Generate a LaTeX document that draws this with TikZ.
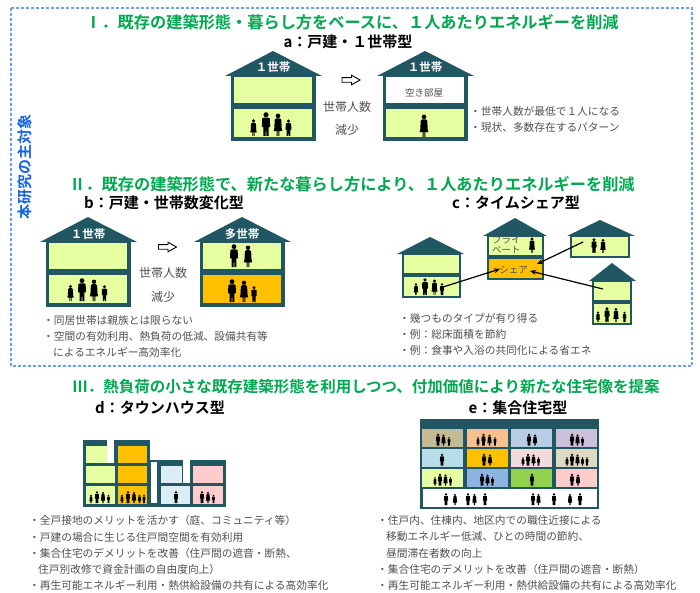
\documentclass[tikz,border=0pt]{standalone}
\usepackage{fontspec}
\setmainfont{Noto Sans CJK JP}[BoldFont={Noto Sans CJK JP Bold}]
\usetikzlibrary{arrows.meta}

\definecolor{housedark}{RGB}{33,87,99}
\definecolor{cLime}{RGB}{230,255,160}
\definecolor{cAmber}{RGB}{255,192,0}
\definecolor{cSky}{RGB}{218,238,243}
\definecolor{cRose}{RGB}{255,204,204}
\definecolor{cTitle}{RGB}{0,168,80}
\definecolor{cVert}{RGB}{20,100,230}
\definecolor{cDash}{RGB}{110,160,240}
\definecolor{cText}{RGB}{80,80,80}
% apartment unit colours
\definecolor{uKhaki}{RGB}{196,186,150}
\definecolor{uPeach}{RGB}{249,192,143}
\definecolor{uBlue}{RGB}{184,204,228}
\definecolor{uLav}{RGB}{204,192,218}
\definecolor{uCyan}{RGB}{183,222,232}
\definecolor{uPink}{RGB}{242,220,219}
\definecolor{uBeige}{RGB}{221,217,195}
\definecolor{uMid}{RGB}{141,180,226}
\definecolor{uGreen}{RGB}{146,208,80}

\tikzset{
  mfig/.pic={
    \fill (0,-0.885) circle (0.105);
    \fill (-0.17,-0.37) -- (-0.16,-0.73) -- (-0.08,-0.77) -- (0.08,-0.77) -- (0.16,-0.73)
      -- (0.17,-0.37) -- (0.12,-0.37) -- (0.11,-0.58) -- (0.105,0) -- (0.02,0) -- (0,-0.42)
      -- (-0.02,0) -- (-0.105,0) -- (-0.11,-0.58) -- (-0.12,-0.37) -- cycle;
  },
  wfig/.pic={
    \fill (0,-0.875) circle (0.10);
    \fill (-0.08,-0.77) -- (0.08,-0.77) -- (0.14,-0.71) -- (0.16,-0.40) -- (0.12,-0.40)
      -- (0.11,-0.56) -- (0.19,-0.21) -- (0.065,-0.21) -- (0.06,0) -- (0.02,0) -- (0.02,-0.21)
      -- (-0.02,-0.21) -- (-0.02,0) -- (-0.06,0) -- (-0.065,-0.21) -- (-0.19,-0.21)
      -- (-0.11,-0.56) -- (-0.12,-0.40) -- (-0.16,-0.40) -- (-0.14,-0.71) -- cycle;
  },
  title/.style={text=cTitle, font=\bfseries\fontsize{16.2}{19}\selectfont, inner sep=0pt},
  subtitle/.style={font=\bfseries\fontsize{15}{18}\selectfont, inner sep=0pt},
  note/.style={text=cText, font=\fontsize{10.7}{12}\selectfont, anchor=west, inner sep=0pt},
  rooflbl/.style={text=white, font=\bfseries\fontsize{11.5}{13}\selectfont, inner sep=0pt},
  changelbl/.style={text=cText, font=\fontsize{12}{14}\selectfont, inner sep=0pt},
  roomlbl/.style={text=cText, font=\fontsize{9.5}{11}\selectfont, inner sep=0pt},
  link/.style={line width=1.2pt, -{Stealth[length=6pt,width=5pt]}},
  hollow/.style={draw=black, fill=white, line width=0.9pt, line join=miter},
}

% people: x, feet y, adult height
\newcommand\manat[3]{\pic[scale=#3] at (#1,#2) {mfig};}
\newcommand\womanat[3]{\pic[scale=#3] at (#1,#2) {wfig};}
\newcommand\boyat[3]{\pic[scale=0.7*#3] at (#1,#2) {mfig};}
\newcommand\girlat[3]{\pic[scale=0.72*#3] at (#1,#2) {wfig};}

% detached house with two floors, drawn relative to the first one
\newcommand\bighouse[4]{%
  \begin{scope}[shift={(#1,#2)}]
    \fill[housedark] (225,76) -- (273,51) -- (322,76) -- cycle;
    \fill[housedark] (231,75) rectangle (316,141);
    \fill[#3] (234,77) rectangle (312,103);
    \fill[#4] (234,109) rectangle (312,137);
  \end{scope}}

% hollow block arrow centred on a point
\newcommand\hollowarrow[2]{%
  \begin{scope}[shift={(#1,#2)}]
    \draw[hollow] (-9,-2.3) -- (0.5,-2.3) -- (0.5,-4.8) -- (9,0) -- (0.5,4.8) -- (0.5,2.3) -- (-9,2.3) -- cycle;
  \end{scope}}

\begin{document}
\begin{tikzpicture}[x=1pt,y=-1pt]
\useasboundingbox (0,0) rectangle (700,593);
\fill[white] (0,0) rectangle (700,593);

% main-target frame
\draw[cDash, line width=1.2pt, dash pattern=on 3pt off 2pt] (11,8) rectangle (692,366);
\node[rotate=90, text=cVert, font=\bfseries\fontsize{15}{17}\selectfont, inner sep=0pt] (target) at (25,167) {本研究の主対象};

% ---------- I ----------
\node[title] (t1) at (352,22) {Ⅰ．既存の建築形態・暮らし方をベースに、１人あたりエネルギーを削減};
\node[subtitle] (ta) at (348,42) {a：戸建・１世帯型};

\bighouse{0}{0}{cLime}{cLime}
\bighouse{152}{0}{white}{cLime}
\node[rooflbl] (a1roof) at (273,67) {１世帯};
\node[rooflbl] (a2roof) at (425,67) {１世帯};
\node[roomlbl] (a2empty) at (424,93) {空き部屋};
\girlat{253.5}{136}{24} \manat{266}{136}{24} \womanat{278}{136}{23} \boyat{288.5}{136}{24}
\womanat{424}{137}{23}
\hollowarrow{351}{80}
\node[changelbl] (ach1) at (347,107) {世帯人数};
\node[changelbl] (ach2) at (347,130) {減少};
\node[note] (an1) at (470,111) {・世帯人数が最低で１人になる};
\node[note] (an2) at (470,127) {・現状、多数存在するパターン};

% ---------- II ----------
\node[title] (t2) at (352,184) {Ⅱ．既存の建築形態で、新たな暮らし方により、１人あたりエネルギーを削減};
\node[subtitle] (tb) at (164,203) {b：戸建・世帯数変化型};
\node[subtitle] (tc) at (516,203) {c：タイムシェア型};

% b
\bighouse{-185}{166}{cLime}{cLime}
\bighouse{-31}{166}{cLime}{cAmber}
\node[rooflbl] (b1roof) at (88,234) {１世帯};
\node[rooflbl] (b2roof) at (242,234) {多世帯};
\girlat{70.5}{301}{23} \manat{82}{301}{23} \womanat{94}{301}{22} \boyat{104.5}{301}{23}
\manat{234}{267}{23} \womanat{248}{267}{22}
\manat{232}{302}{23} \womanat{244}{302}{22} \boyat{254}{302}{23}
\hollowarrow{167.5}{247}
\node[changelbl] (bch1) at (163,273) {世帯人数};
\node[changelbl] (bch2) at (163,297) {減少};
\node[note] (bn1) at (43,320) {・同居世帯は親族とは限らない};
\node[note] (bn2) at (43,336) {・空間の有効利用、熱負荷の低減、設備共有等};
\node[note] (bn3) at (53,352) {によるエネルギー高効率化};

% c : four houses around a shared space
\fill[housedark] (397,254) -- (430,237) -- (464,254) -- cycle;
\fill[housedark] (402,253) rectangle (461,298);
\fill[cLime] (404,255) rectangle (459,273);
\fill[cLime] (404,277) rectangle (459,296);
\girlat{416}{295}{17} \manat{425}{295}{17} \womanat{434.5}{295}{16} \boyat{442}{295}{17}

\fill[housedark] (483,236) -- (515,218) -- (547,236) -- cycle;
\fill[housedark] (487,235) rectangle (544,280);
\fill[cLime] (489,237) rectangle (542,255);
\fill[cAmber] (489,259) rectangle (542,278);
\node[roomlbl, anchor=west] (priv1) at (492,240) {プライ};
\node[roomlbl, anchor=west] (priv2) at (492,250) {ベート};
\womanat{532}{253}{16}
\node[roomlbl] (share) at (513.5,270) {シェア};

\fill[housedark] (567,236) -- (600,220) -- (635,236) -- cycle;
\fill[housedark] (570,235) rectangle (630,258);
\fill[cLime] (572,237) rectangle (628,256);
\manat{594}{253}{15} \womanat{603}{253}{14.5}

\fill[housedark] (589,281) -- (612,263) -- (636,281) -- cycle;
\fill[housedark] (592,280) rectangle (632,325);
\fill[cLime] (594,282) rectangle (630,300);
\fill[cLime] (594,304) rectangle (630,323);
\girlat{598}{322}{15} \manat{607}{322}{15} \womanat{616}{322}{14.5} \boyat{624.5}{322}{15}

\coordinate (cfamA) at (443,287);
\coordinate (cfamB) at (583,242);
\coordinate (cfamC) at (603,289);
\coordinate (shareA) at (500,269);
\coordinate (shareB) at (537,264);
\coordinate (shareC) at (530,271);
\draw[link] (cfamA) -- (shareA);
\draw[link] (cfamB) -- (shareB);
\draw[link] (cfamC) -- (shareC);

\node[note] (cn1) at (399,318) {・幾つものタイプが有り得る};
\node[note] (cn2) at (399,334) {・例：総床面積を節約};
\node[note] (cn3) at (399,350) {・例：食事や入浴の共同化による省エネ};

% ---------- III ----------
\node[title, font=\bfseries\fontsize{15.5}{18}\selectfont] (t3) at (366,387) {Ⅲ．熱負荷の小さな既存建築形態を利用しつつ、付加価値により新たな住宅像を提案};
\node[subtitle] (td) at (160,408) {d：タウンハウス型};
\node[subtitle] (te) at (518,408) {e：集合住宅型};

% d : town house
\fill[housedark] (83,440) rectangle (150,507);
\fill[cLime] (86,446) rectangle (107,463);
\fill[white] (107,440) rectangle (114,463);
\fill[cLime] (86,466) rectangle (115,483);
\fill[cLime] (86,486) rectangle (115,504);
\fill[cAmber] (118,446) rectangle (147,463);
\fill[cAmber] (118,466) rectangle (147,483);
\fill[cAmber] (118,486) rectangle (147,504);
\fill[housedark] (149,460) rectangle (226,507);
\fill[white] (151,462) rectangle (157,503);
\fill[cSky] (161,466) rectangle (182,483);
\fill[white] (183,460) rectangle (190,483);
\fill[cSky] (161,486) rectangle (190,504);
\fill[cRose] (193,466) rectangle (223,483);
\fill[cRose] (193,486) rectangle (223,504);
\girlat{91}{503}{12} \manat{97}{503}{12} \womanat{103}{503}{11.5} \boyat{108.5}{503}{12}
\girlat{122}{503}{12} \manat{128}{503}{12} \womanat{134}{503}{11.5} \girlat{139.5}{503}{12} \boyat{144}{503}{12}
\manat{176}{503}{12}
\manat{202}{503}{12} \womanat{208}{503}{11.5} \boyat{213.5}{503}{12}

\node[note] (dn1) at (29,520) {・全戸接地のメリットを活かす（庭、コミュニティ等）};
\node[note] (dn2) at (29,537) {・戸建の場合に生じる住戸間空間を有効利用};
\node[note] (dn3) at (29,553) {・集合住宅のデメリットを改善（住戸間の遮音・断熱、};
\node[note] (dn4) at (38,569) {住戸別改修で資金計画の自由度向上）};
\node[note] (dn5) at (29,585) {・再生可能エネルギー利用・熱供給設備の共有による高効率化};

% e : apartment block
\fill[housedark] (420,419) rectangle (599,509);
\fill[uKhaki] (422,429) rectangle (463,447);
\fill[uPeach] (467,429) rectangle (508,447);
\fill[uBlue] (511,429) rectangle (552,447);
\fill[uLav] (556,429) rectangle (597,447);
\fill[uCyan] (422,449) rectangle (463,467);
\fill[cAmber] (467,449) rectangle (508,467);
\fill[uPink] (511,449) rectangle (552,467);
\fill[uBeige] (556,449) rectangle (597,467);
\fill[cLime] (422,469) rectangle (463,487);
\fill[uMid] (467,469) rectangle (508,487);
\fill[uGreen] (511,469) rectangle (552,487);
\fill[cRose] (556,469) rectangle (597,487);
\fill[white] (423,489) rectangle (597,507);
% residents, floor by floor
\manat{438}{445.5}{12} \womanat{443.5}{445.5}{11.5} \boyat{449}{445.5}{12}
\girlat{478}{445.5}{12} \manat{483.5}{445.5}{12} \womanat{489.5}{445.5}{11.5} \boyat{495}{445.5}{12}
\manat{529}{445.5}{12} \womanat{535}{445.5}{11.5}
\manat{572}{445.5}{12} \womanat{577.5}{445.5}{11.5} \boyat{582.5}{445.5}{12}
\manat{442}{465.5}{12}
\manat{484}{465.5}{12} \womanat{490}{465.5}{11.5}
\girlat{523}{465.5}{12} \manat{528}{465.5}{12} \womanat{533.5}{465.5}{11.5} \boyat{538.5}{465.5}{12}
\girlat{567}{465.5}{12} \manat{572}{465.5}{12} \womanat{577.5}{465.5}{11.5} \girlat{582.5}{465.5}{12} \boyat{587}{465.5}{12}
\girlat{435}{485.5}{12} \manat{440}{485.5}{12} \womanat{445.5}{485.5}{11.5} \boyat{450.5}{485.5}{12}
\manat{482}{485.5}{12} \womanat{487.5}{485.5}{11.5} \boyat{492.5}{485.5}{12}
\manat{532}{485.5}{12}
\manat{572}{485.5}{12} \womanat{578}{485.5}{11.5}
\manat{446}{505}{12} \womanat{455}{505}{11.5}
\manat{468}{505}{12} \womanat{474.5}{505}{11.5} \manat{485}{505}{12}
\manat{533}{505}{12} \womanat{538.5}{505}{11.5}
\manat{554}{505}{12}
\womanat{570}{505}{11.5} \manat{580}{505}{12}

\node[note] (en1) at (377,520) {・住戸内、住棟内、地区内での職住近接による};
\node[note] (en2) at (386,536) {移動エネルギー低減、ひとの時間の節約、};
\node[note] (en3) at (386,553) {昼間滞在者数の向上};
\node[note] (en4) at (377,569) {・集合住宅のデメリットを改善（住戸間の遮音・断熱）};
\node[note] (en5) at (377,585) {・再生可能エネルギー利用・熱供給設備の共有による高効率化};
\end{tikzpicture}
\end{document}
